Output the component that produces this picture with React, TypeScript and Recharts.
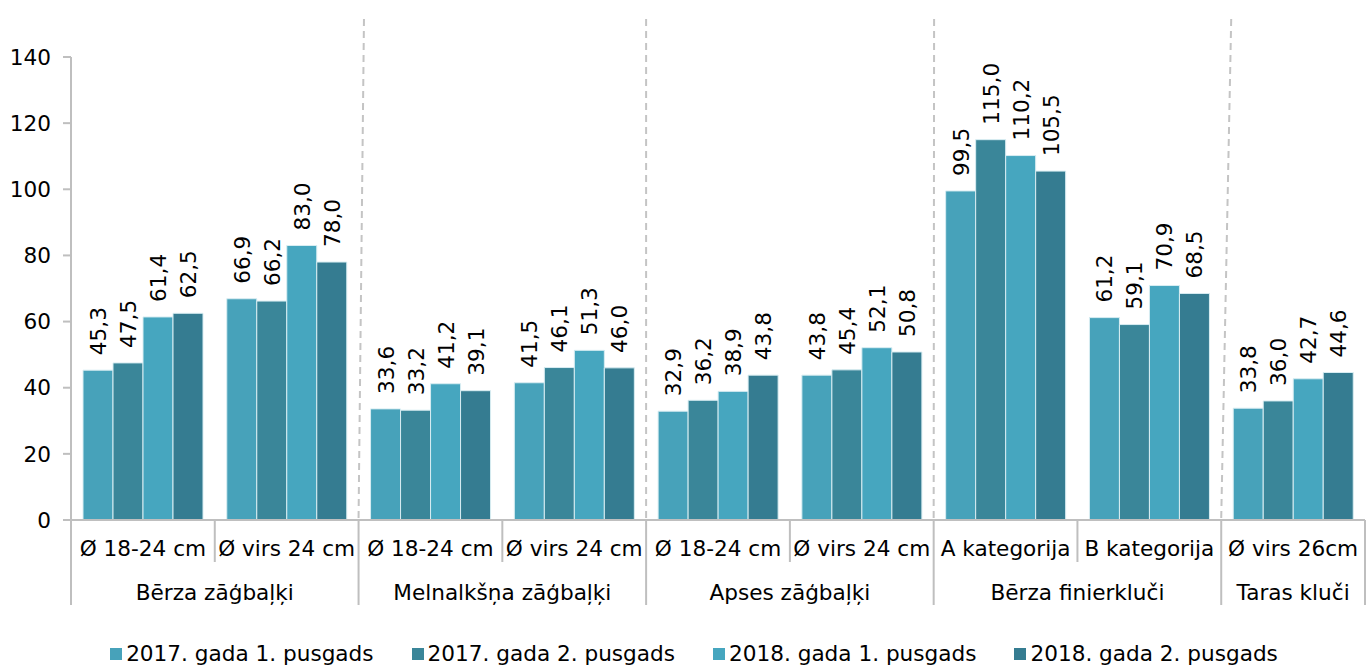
import React from "react";
import { BarChart, Bar, XAxis, YAxis, LabelList, Legend } from "recharts";

const subCategories = [
  "Ø 18-24 cm", "Ø virs 24 cm",
  "Ø 18-24 cm", "Ø virs 24 cm",
  "Ø 18-24 cm", "Ø virs 24 cm",
  "A kategorija", "B kategorija",
  "Ø virs 26cm",
];
const groupNames = ["Bērza zāģbaļķi", "Melnalkšņa zāģbaļķi", "Apses zāģbaļķi", "Bērza finierkluči", "Taras kluči"];
const groupSizes = [2, 2, 2, 2, 1];

const s2017h1 = [45.3, 66.9, 33.6, 41.5, 32.9, 43.8, 99.5, 61.2, 33.8];
const s2017h2 = [47.5, 66.2, 33.2, 46.1, 36.2, 45.4, 115.0, 59.1, 36.0];
const s2018h1 = [61.4, 83.0, 41.2, 51.3, 38.9, 52.1, 110.2, 70.9, 42.7];
const s2018h2 = [62.5, 78.0, 39.1, 46.0, 43.8, 50.8, 105.5, 68.5, 44.6];

const seriesNames = ["2017. gada 1. pusgads", "2017. gada 2. pusgads", "2018. gada 1. pusgads", "2018. gada 2. pusgads"];
const seriesKeys = ["a", "b", "c", "d"];
const seriesColors = ["#47A2BA", "#3A8699", "#46A6BF", "#357C91"];
const yTicks = [0, 20, 40, 60, 80, 100, 120, 140];

// slant of the dashed group separators (fraction of a band) for groups 1..4
const separatorSlant = [0, 0.038, 0, 0.003, 0.07];

const data = subCategories.map((sub, i) => ({
  sub,
  a: s2017h1[i],
  b: s2017h2[i],
  c: s2018h1[i],
  d: s2018h2[i],
}));

const groupStart: Record<number, number> = {};
{
  let idx = 0;
  groupSizes.forEach((s, g) => {
    groupStart[idx] = g;
    idx += s;
  });
}

const FONT = "DejaVu Sans";
const FS = 21.6;
const AXIS = "#BFBFBF";

const fmt = (v: number) => v.toFixed(1).replace(".", ",");

const renderLabel = (props: any) => {
  const { x, y, width, value } = props;
  const cx = Number(x) + Number(width) / 2 + 8;
  const ty = Number(y) - 15;
  return (
    <text
      x={cx}
      y={ty}
      transform={`rotate(-90 ${cx} ${ty})`}
      textAnchor="start"
      fontFamily={FONT}
      fontSize={FS}
      fill="#000"
    >
      {fmt(Number(value))}
    </text>
  );
};

const XTick = (props: any) => {
  const { x, y, payload } = props;
  const idx = payload.index;
  const half = payload.offset || 71.9;
  const left = x - half;
  const right = x + half;
  const isGroupStart = groupStart[idx] !== undefined;
  const last = idx === subCategories.length - 1;
  const els: any[] = [];
  els.push(
    <line key="l" x1={left} x2={left} y1={y} y2={y + (isGroupStart ? 85 : 42)} stroke={AXIS} strokeWidth={2} />
  );
  if (last) {
    els.push(<line key="r" x1={right} x2={right} y1={y} y2={y + 85} stroke={AXIS} strokeWidth={2} />);
  }
  els.push(
    <text key="t" x={x} y={y + 28} textAnchor="middle" dominantBaseline="central" fontFamily={FONT} fontSize={FS} fill="#000">
      {payload.value}
    </text>
  );
  if (isGroupStart) {
    const g = groupStart[idx];
    const gx = left + groupSizes[g] * half;
    els.push(
      <text key="g" x={gx} y={y + 72} textAnchor="middle" dominantBaseline="central" fontFamily={FONT} fontSize={FS} fill="#000">
        {groupNames[g]}
      </text>
    );
    if (g > 0) {
      const topX = left + separatorSlant[g] * 2 * half;
      els.push(
        <line
          key="d"
          x1={left}
          y1={y - 2}
          x2={topX}
          y2={y - 505}
          stroke="#C4C4C4"
          strokeWidth={2}
          strokeDasharray="7 5"
        />
      );
    }
  }
  return <g>{els}</g>;
};

const renderLegend = () => (
  <div
    style={{
      display: "flex",
      justifyContent: "center",
      paddingLeft: 23,
      fontFamily: FONT,
      fontSize: FS,
      color: "#000",
      height: 46,
      alignItems: "flex-end",
      boxSizing: "border-box",
    }}
  >
    {seriesNames.map((n, i) => (
      <div key={n} style={{ display: "flex", alignItems: "center", marginRight: i < 3 ? 38 : 0, whiteSpace: "nowrap", lineHeight: "24px" }}>
        <span style={{ display: "inline-block", width: 12, height: 12, background: seriesColors[i], marginRight: 4 }} />
        <span>{n}</span>
      </div>
    ))}
  </div>
);

export default function App() {
  return (
    <div style={{ position: "absolute", left: 0, top: 0, width: 1368, height: 666, background: "#fff" }}>
      <BarChart
        width={1368}
        height={666}
        data={data}
        margin={{ top: 57, right: 3, left: 0, bottom: 0 }}
        barCategoryGap={12}
        barGap={0}
      >
        <XAxis
          dataKey="sub"
          interval={0}
          tickLine={false}
          tickSize={0}
          tickMargin={0}
          height={100}
          axisLine={{ stroke: AXIS, strokeWidth: 2 }}
          tick={<XTick />}
        />
        <YAxis
          domain={[0, 140]}
          ticks={yTicks}
          width={71}
          tickSize={8}
          tickMargin={12}
          axisLine={{ stroke: AXIS, strokeWidth: 2 }}
          tickLine={{ stroke: AXIS, strokeWidth: 2 }}
          tick={{ fill: "#000", fontSize: FS, fontFamily: FONT }}
        />
        {seriesKeys.map((k, i) => (
          <Bar key={k} dataKey={k} name={seriesNames[i]} fill={seriesColors[i]} stroke="#D8EDF2" strokeWidth={1} isAnimationActive={false}>
            <LabelList dataKey={k} content={renderLabel} />
          </Bar>
        ))}
        <Legend verticalAlign="bottom" height={46} content={renderLegend} />
      </BarChart>
    </div>
  );
}
